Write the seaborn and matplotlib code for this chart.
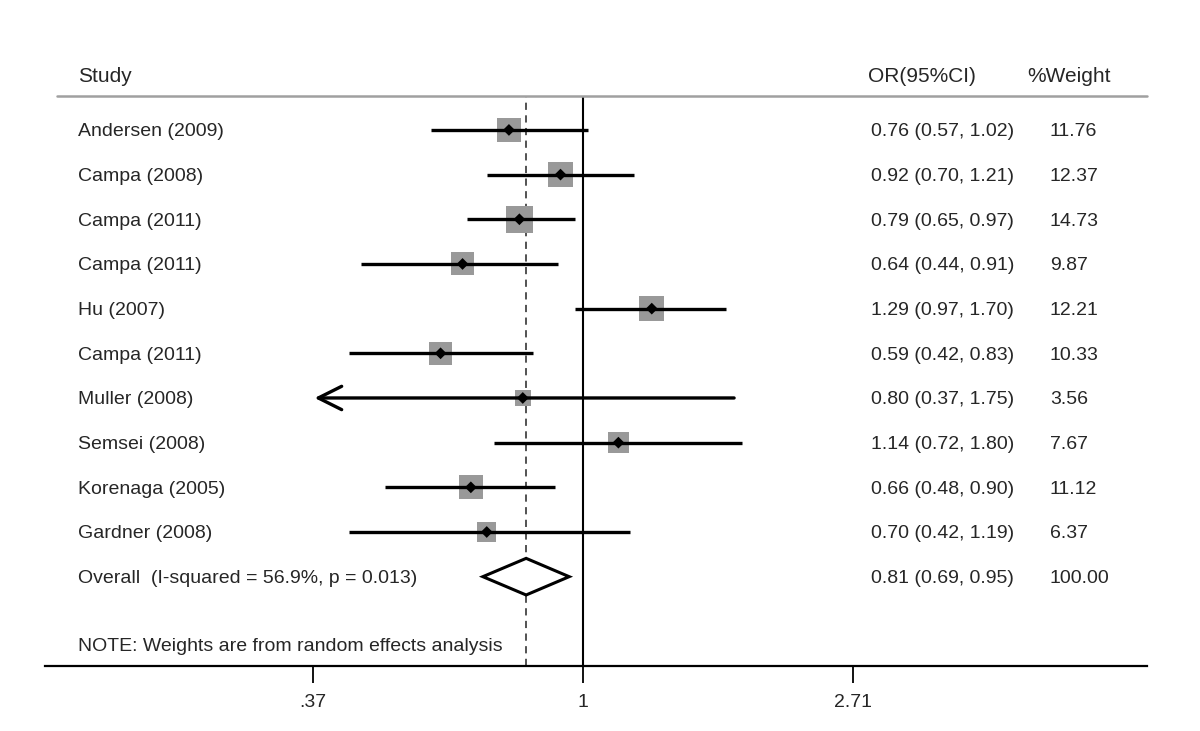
import numpy as np
import pandas as pd
import matplotlib
matplotlib.use("Agg")
import matplotlib.pyplot as plt
import seaborn as sns

# forest plot data
studies = ["Andersen (2009)", "Campa (2008)", "Campa (2011)", "Campa (2011)", "Hu (2007)",
           "Campa (2011)", "Muller (2008)", "Semsei (2008)", "Korenaga (2005)", "Gardner (2008)"]
odds = [0.76, 0.92, 0.79, 0.64, 1.29, 0.59, 0.80, 1.14, 0.66, 0.70]
lower = [0.57, 0.70, 0.65, 0.44, 0.97, 0.42, 0.37, 0.72, 0.48, 0.42]
upper = [1.02, 1.21, 0.97, 0.91, 1.70, 0.83, 1.75, 1.80, 0.90, 1.19]
weights = [11.76, 12.37, 14.73, 9.87, 12.21, 10.33, 3.56, 7.67, 11.12, 6.37]
truncated = [False, False, False, False, False, False, True, False, False, False]

overall_label = "Overall  (I-squared = 56.9%, p = 0.013)"
overall_or, overall_lo, overall_hi = 0.81, 0.69, 0.95
overall_weight = "100.00"

tick_vals = [np.exp(-1), 1, np.exp(1)]
tick_labels = [".37", "1", "2.71"]

sns.set_style("white")
plt.rcParams["font.family"] = ["Liberation Sans", "DejaVu Sans"]

df = pd.DataFrame({"study": studies, "or": odds, "lo": lower, "hi": upper,
                   "w": weights, "trunc": truncated})
df["row"] = np.arange(len(df))
overall_row = len(df)

fig = plt.figure(figsize=(12, 7.31), dpi=100)
ax = fig.add_axes([0.0375, 0.0889, 0.9183, 0.7798])
ax.set_xscale("log")
ax.set_xlim(0.1363, 8.076)
ax.set_ylim(12, -0.76)

# reference lines
ax.axvline(1, color="black", lw=1.5, zorder=1)
ax.axvline(overall_or, color="#444444", lw=1.3, ls=(0, (4, 3)), zorder=1)

# confidence intervals
normal = df[~df["trunc"]]
ax.hlines(normal["row"], normal["lo"], normal["hi"], color="black", lw=2.4, zorder=3)
for _, r in df[df["trunc"]].iterrows():
    ax.annotate("", xy=(r["lo"], r["row"]), xytext=(r["hi"], r["row"]),
                arrowprops=dict(arrowstyle="->", lw=2.4, color="black",
                                mutation_scale=42, shrinkA=0, shrinkB=0),
                zorder=3)

# weight boxes (side grows with sqrt of weight) and point estimates
box_side = (5.4 + 5.6 * np.sqrt(df["w"])) * 0.72
sns.scatterplot(data=df, x="or", y="row", marker="s", s=box_side ** 2,
                color="#999999", edgecolor="none", linewidth=0, ax=ax, zorder=2, legend=False)
sns.scatterplot(data=df, x="or", y="row", marker="D", s=36,
                color="black", edgecolor="none", linewidth=0, ax=ax, zorder=4, legend=False)

# overall diamond
ax.fill([overall_lo, overall_or, overall_hi, overall_or],
        [overall_row, overall_row - 0.41, overall_row, overall_row + 0.41],
        facecolor="white", edgecolor="black", lw=2.2, zorder=3)

# text columns
tf = ax.get_yaxis_transform()
fs = 14
va = "center_baseline"
for _, r in df.iterrows():
    ax.text(0.030, r["row"], r["study"], transform=tf, va=va, ha="left", fontsize=fs)
    ax.text(0.750, r["row"], f"{r['or']:.2f} ({r['lo']:.2f}, {r['hi']:.2f})",
            transform=tf, va=va, ha="left", fontsize=fs)
    ax.text(0.912, r["row"], f"{r['w']:.2f}", transform=tf, va=va, ha="left", fontsize=fs)
ax.text(0.030, overall_row, overall_label, transform=tf, va=va, ha="left", fontsize=fs)
ax.text(0.750, overall_row, f"{overall_or:.2f} ({overall_lo:.2f}, {overall_hi:.2f})",
        transform=tf, va=va, ha="left", fontsize=fs)
ax.text(0.912, overall_row, overall_weight, transform=tf, va=va, ha="left", fontsize=fs)

ax.text(0.030, 11.52, "NOTE: Weights are from random effects analysis",
        transform=tf, va=va, ha="left", fontsize=fs)

# header
ax.text(0.030, -1.23, "Study", transform=tf, va=va, ha="left", fontsize=15, clip_on=False)
ax.text(0.747, -1.23, "OR(95%CI)", transform=tf, va=va, ha="left", fontsize=15, clip_on=False)
ax.text(0.891, -1.23, "%Weight", transform=tf, va=va, ha="left", fontsize=15, clip_on=False)
ax.axhline(-0.76, xmin=0.011, xmax=1.0, color="#a0a0a0", lw=1.8, clip_on=False)

# axis styling
for side in ["top", "right", "left"]:
    ax.spines[side].set_visible(False)
ax.spines["bottom"].set_linewidth(1.6)
ax.spines["bottom"].set_color("black")
ax.set_yticks([])
ax.set_xticks(tick_vals)
ax.set_xticklabels(tick_labels)
ax.xaxis.set_minor_locator(matplotlib.ticker.NullLocator())
ax.tick_params(axis="x", which="major", direction="out", length=12, width=1.3,
               pad=8, labelsize=14, bottom=True, color="black")
ax.set_xlabel("")
ax.set_ylabel("")

fig.savefig("out.png", dpi=100, facecolor="white")
